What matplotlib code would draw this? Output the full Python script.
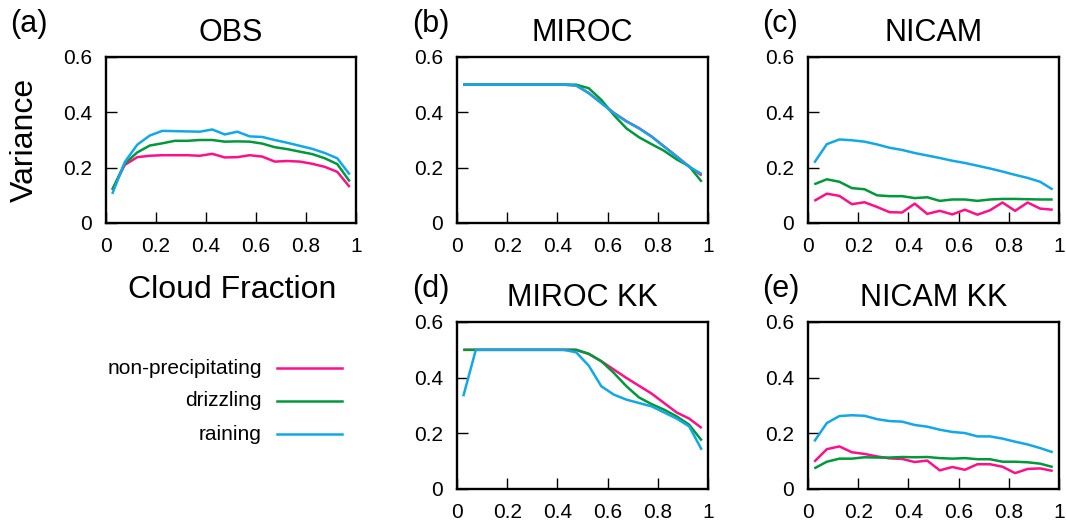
import matplotlib.pyplot as plt

plt.rcParams['font.family'] = ['Liberation Sans', 'DejaVu Sans']

# bin centres of cloud fraction
cf = [0.025, 0.075, 0.125, 0.175, 0.225, 0.275, 0.325, 0.375, 0.425, 0.475,
      0.525, 0.575, 0.625, 0.675, 0.725, 0.775, 0.825, 0.875, 0.925, 0.975]

# OBS
obs_non = [0.12, 0.21, 0.238, 0.243, 0.245, 0.245, 0.245, 0.243, 0.25, 0.237,
           0.238, 0.245, 0.24, 0.222, 0.224, 0.222, 0.214, 0.203, 0.185, 0.13]
obs_drz = [0.12, 0.215, 0.255, 0.28, 0.288, 0.297, 0.297, 0.3, 0.3, 0.294,
           0.295, 0.294, 0.287, 0.274, 0.267, 0.258, 0.249, 0.234, 0.213, 0.15]
obs_rain = [0.105, 0.22, 0.283, 0.316, 0.333, 0.332, 0.331, 0.33, 0.338, 0.32,
            0.33, 0.313, 0.311, 0.3, 0.29, 0.279, 0.268, 0.253, 0.234, 0.175]

# MIROC
miroc_non = [0.5, 0.5, 0.5, 0.5, 0.5, 0.5, 0.5, 0.5, 0.5, 0.497,
             0.47, 0.434, 0.398, 0.368, 0.343, 0.313, 0.277, 0.241, 0.204, 0.172]
miroc_drz = [0.5, 0.5, 0.5, 0.5, 0.5, 0.5, 0.5, 0.5, 0.5, 0.5,
             0.487, 0.445, 0.39, 0.342, 0.31, 0.285, 0.261, 0.23, 0.205, 0.149]
miroc_rain = [0.5, 0.5, 0.5, 0.5, 0.5, 0.5, 0.5, 0.5, 0.5, 0.497,
              0.469, 0.433, 0.397, 0.367, 0.342, 0.312, 0.276, 0.24, 0.203, 0.177]

# NICAM
nicam_non = [0.08, 0.106, 0.098, 0.068, 0.075, 0.058, 0.039, 0.038, 0.07, 0.033,
             0.044, 0.031, 0.048, 0.03, 0.046, 0.074, 0.044, 0.074, 0.052, 0.048]
nicam_drz = [0.14, 0.158, 0.149, 0.126, 0.122, 0.1, 0.097, 0.097, 0.09, 0.093,
             0.08, 0.085, 0.085, 0.08, 0.085, 0.087, 0.087, 0.086, 0.085, 0.085]
nicam_rain = [0.218, 0.285, 0.302, 0.299, 0.294, 0.284, 0.272, 0.264, 0.253, 0.244,
              0.235, 0.225, 0.217, 0.207, 0.197, 0.186, 0.174, 0.163, 0.149, 0.121]

# MIROC KK
mkk_non = [0.5, 0.5, 0.5, 0.5, 0.5, 0.5, 0.5, 0.5, 0.5, 0.5,
           0.485, 0.459, 0.429, 0.399, 0.371, 0.343, 0.309, 0.275, 0.253, 0.219]
mkk_drz = [0.5, 0.5, 0.5, 0.5, 0.5, 0.5, 0.5, 0.5, 0.5, 0.5,
           0.486, 0.459, 0.417, 0.369, 0.329, 0.305, 0.285, 0.261, 0.231, 0.174]
mkk_rain = [0.333, 0.5, 0.5, 0.5, 0.5, 0.5, 0.5, 0.5, 0.5, 0.491,
            0.443, 0.369, 0.339, 0.321, 0.309, 0.297, 0.275, 0.253, 0.225, 0.141]

# NICAM KK
nkk_non = [0.098, 0.143, 0.153, 0.132, 0.126, 0.117, 0.11, 0.108, 0.097, 0.102,
           0.067, 0.079, 0.069, 0.089, 0.089, 0.08, 0.057, 0.072, 0.074, 0.065]
nkk_drz = [0.074, 0.098, 0.109, 0.109, 0.114, 0.113, 0.113, 0.115, 0.114, 0.115,
           0.111, 0.109, 0.111, 0.107, 0.107, 0.098, 0.098, 0.096, 0.091, 0.079]
nkk_rain = [0.171, 0.237, 0.262, 0.265, 0.263, 0.251, 0.244, 0.242, 0.23, 0.224,
            0.213, 0.205, 0.201, 0.189, 0.189, 0.181, 0.17, 0.16, 0.147, 0.132]

labels = ["non-precipitating", "drizzling", "raining"]
colors = ["#ff1088", "#00993a", "#12a8e8"]

W, H = 1066, 524
fig = plt.figure(figsize=(W / 100, H / 100), dpi=100)


def px_axes(l, t, r, b):
    return fig.add_axes([l / W, 1 - b / H, (r - l) / W, (b - t) / H])


panels = [
    ("(a)", "OBS", (106, 57, 356, 223), [obs_non, obs_drz, obs_rain]),
    ("(b)", "MIROC", (457, 57, 708, 223), [miroc_non, miroc_drz, miroc_rain]),
    ("(c)", "NICAM", (808, 57, 1059, 223), [nicam_non, nicam_drz, nicam_rain]),
    ("(d)", "MIROC KK", (457, 322, 708, 489), [mkk_non, mkk_drz, mkk_rain]),
    ("(e)", "NICAM KK", (808, 322, 1059, 489), [nkk_non, nkk_drz, nkk_rain]),
]

for tag, title, box, series in panels:
    l, t, r, b = box
    ax = px_axes(l, t, r, b)
    for vals, c in zip(series, colors):
        ax.plot(cf, vals, color=c, lw=1.8, solid_capstyle='butt')
    ax.set_xlim(0, 1)
    ax.set_ylim(0, 0.6)
    ax.set_xticks([0, 0.2, 0.4, 0.6, 0.8, 1])
    ax.set_xticklabels(["0", "0.2", "0.4", "0.6", "0.8", "1"])
    ax.set_yticks([0, 0.2, 0.4, 0.6])
    ax.set_yticklabels(["0", "0.2", "0.4", "0.6"])
    ax.tick_params(direction='in', length=8, width=1, labelsize=15, pad=10,
                   top=False, right=False)
    for s in ax.spines.values():
        s.set_linewidth(1.7)
    ax.text(0.5, 1 + 24 / (b - t), title, transform=ax.transAxes,
            ha='center', va='center', fontsize=22)
    # panel letter
    lx = {106: 10, 457: 412, 808: 762}[l]
    fig.text(lx / W, 1 - (t - 33) / H, tag, ha='left', va='center', fontsize=22)

fig.text(25 / W, 1 - 140 / H, "Variance", rotation=90, ha='center', va='center',
         fontsize=23)
fig.text(232 / W, 1 - 290 / H, "Cloud Fraction", ha='center', va='center',
         fontsize=23)

# legend drawn by hand on the free area
for i, (lab, c) in enumerate(zip(labels, colors)):
    y = 1 - (368 + 33 * i) / H
    fig.text(262 / W, y, lab, ha='right', va='center', fontsize=15)
    fig.add_artist(plt.Line2D([277 / W, 342 / W], [y, y], color=c, lw=1.8,
                              transform=fig.transFigure))

fig.savefig("out.png", dpi=100)
